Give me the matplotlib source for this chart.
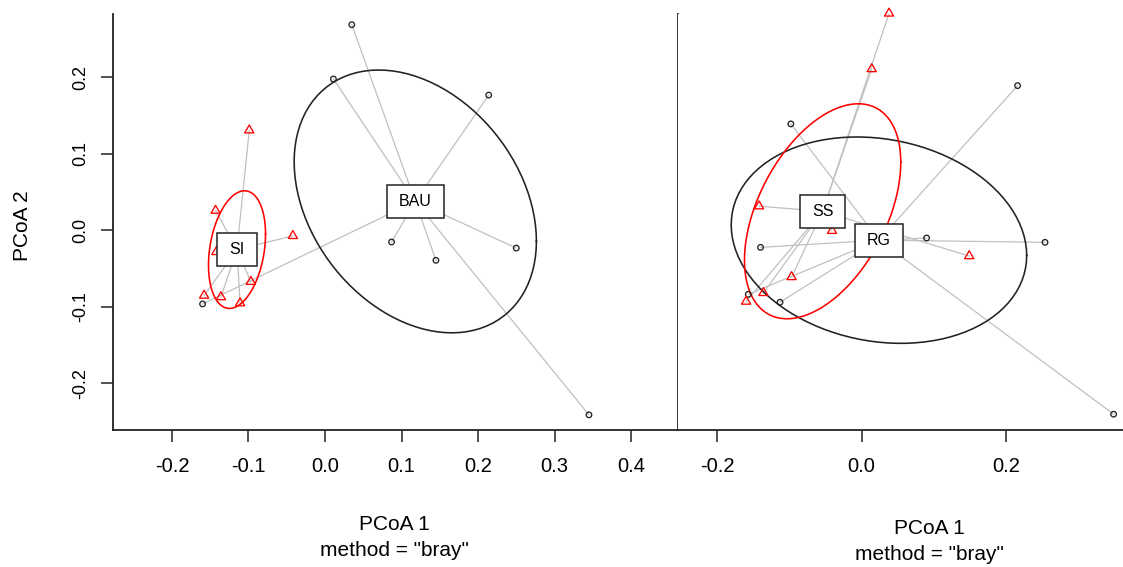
import numpy as np
import matplotlib
matplotlib.use("Agg")
import matplotlib.pyplot as plt
from matplotlib.path import Path
from matplotlib.patches import Rectangle
from matplotlib.transforms import IdentityTransform

plt.rcParams["font.family"] = ["Liberation Sans", "DejaVu Sans"]
plt.rcParams["axes.unicode_minus"] = False

# betadisper scores (PCoA 1, PCoA 2), first model: BAU vs SI
bau_x = [0.035, 0.011, 0.214, 0.087, 0.145, 0.250, 0.345, -0.160]
bau_y = [0.269, 0.198, 0.177, -0.015, -0.039, -0.023, -0.241, -0.096]
si_x = [-0.099, -0.143, -0.042, -0.142, -0.097, -0.158, -0.136, -0.111]
si_y = [0.131, 0.026, -0.007, -0.028, -0.067, -0.085, -0.087, -0.095]
left_labels = ["BAU", "SI"]
left_centroids = [(0.118, 0.038), (-0.115, -0.025)]

# second model: RG vs SS
rg_x = [-0.098, -0.140, -0.157, -0.113, 0.090, 0.216, 0.254, 0.349]
rg_y = [0.140, -0.031, -0.096, -0.107, -0.018, 0.193, -0.024, -0.262]
ss_x = [0.038, 0.014, -0.142, -0.041, 0.149, -0.097, -0.136, -0.160]
ss_y = [0.293, 0.216, 0.026, -0.008, -0.043, -0.072, -0.094, -0.106]
right_labels = ["RG", "SS"]
right_centroids = [(0.024, -0.021), (-0.054, 0.019)]

left_xticks = [-0.2, -0.1, 0.0, 0.1, 0.2, 0.3, 0.4]
left_yticks = [-0.2, -0.1, 0.0, 0.1, 0.2]
right_xticks = [-0.2, 0.0, 0.2]

# open equilateral triangle like R's pch = 2
tri = Path([(-1, -0.577), (1, -0.577), (0, 1.155), (-1, -0.577)],
           [Path.MOVETO, Path.LINETO, Path.LINETO, Path.CLOSEPOLY])
styles = [("#222222", "o", 16), ("#ff0000", tri, 58)]


def cov_ellipse(x, y, centre, npoints=100):
    # sd ellipse around the group centre (cov.wt with fixed center)
    pts = np.column_stack([x, y]) - np.asarray(centre)
    cov = pts.T @ pts / (len(pts) - 1)
    upper = np.linalg.cholesky(cov).T
    theta = np.linspace(0, 2 * np.pi, npoints + 1)
    circle = np.column_stack([np.cos(theta), np.sin(theta)])
    return circle @ upper + np.asarray(centre)


def draw_panel(ax, groups, labels, centroids):
    for (x, y), cen, (col, _, _) in zip(groups, centroids, styles):
        for xi, yi in zip(x, y):
            ax.plot([cen[0], xi], [cen[1], yi], color="#c0c0c0", lw=0.9, zorder=1)
        ell = cov_ellipse(x, y, cen)
        ax.plot(ell[:, 0], ell[:, 1], color=col, lw=1.15, zorder=2)
    for (x, y), (col, marker, size) in zip(groups, styles):
        ax.scatter(x, y, marker=marker, s=size, facecolors="none",
                   edgecolors=col, linewidths=0.95, zorder=3, clip_on=False)
    texts = []
    for lab, cen in zip(labels, centroids):
        texts.append(ax.text(cen[0], cen[1], lab, ha="center", va="center",
                             fontsize=11.5, zorder=5))
    return texts


fig = plt.figure(figsize=(11.23, 5.67), dpi=100)
ax1 = fig.add_axes([113 / 1123, 137 / 567, 565 / 1123, 416 / 567])
ax2 = fig.add_axes([678 / 1123, 137 / 567, 445 / 1123, 416 / 567])

labels1 = draw_panel(ax1, [(bau_x, bau_y), (si_x, si_y)], left_labels, left_centroids)
labels2 = draw_panel(ax2, [(rg_x, rg_y), (ss_x, ss_y)], right_labels, right_centroids)

ax1.set_xlim(-0.2771, 0.4614)
ax1.set_ylim(-0.2608, 0.2830)
ax2.set_xlim(-0.2543, 0.3620)
ax2.set_ylim(-0.2839, 0.2922)

for ax in (ax1, ax2):
    for sp in ax.spines.values():
        sp.set_color("#222222")
        sp.set_linewidth(1.3)
    ax.spines["top"].set_visible(False)
ax2.spines["left"].set_visible(False)
ax2.spines["right"].set_visible(False)

ax1.set_xticks(left_xticks, labels=[f"{v:.1f}" for v in left_xticks])
ax1.set_yticks(left_yticks, labels=[f"{v:.1f}" for v in left_yticks])
ax2.set_xticks(right_xticks, labels=[f"{v:.1f}" for v in right_xticks])
ax2.set_yticks([])

for ax in (ax1, ax2):
    ax.tick_params(axis="x", direction="out", length=8.5, width=1.1,
                   color="#222222", pad=11, labelsize=14.5)
ax1.tick_params(axis="y", direction="out", length=9, width=1.1,
                color="#222222", pad=8, labelsize=13)
for lbl in ax1.get_yticklabels():
    lbl.set_rotation(90)
    lbl.set_va("center")

fig.text(23 / 1123, 1 - 226 / 567, "PCoA 2", rotation=90, ha="center",
         va="center", fontsize=15)
fig.text(394 / 1123, 1 - 525 / 567, "PCoA 1", ha="center", va="center", fontsize=15)
fig.text(394 / 1123, 1 - 550 / 567, 'method = "bray"', ha="center", va="center", fontsize=15)
fig.text(929 / 1123, 1 - 528 / 567, "PCoA 1", ha="center", va="center", fontsize=15)
fig.text(929 / 1123, 1 - 554 / 567, 'method = "bray"', ha="center", va="center", fontsize=15)

# white label boxes around the group centroids (ordilabel style)
renderer = fig.canvas.get_renderer()
for ax, texts in ((ax1, labels1), (ax2, labels2)):
    for t in texts:
        bb = t.get_window_extent(renderer)
        cx, cy = (bb.x0 + bb.x1) / 2, (bb.y0 + bb.y1) / 2
        w, h = bb.width + 24, 33
        ax.add_patch(Rectangle((cx - w / 2, cy - h / 2), w, h,
                               transform=IdentityTransform(), fc="white",
                               ec="#222222", lw=1.1, zorder=4))

fig.savefig("out.png", dpi=100)
